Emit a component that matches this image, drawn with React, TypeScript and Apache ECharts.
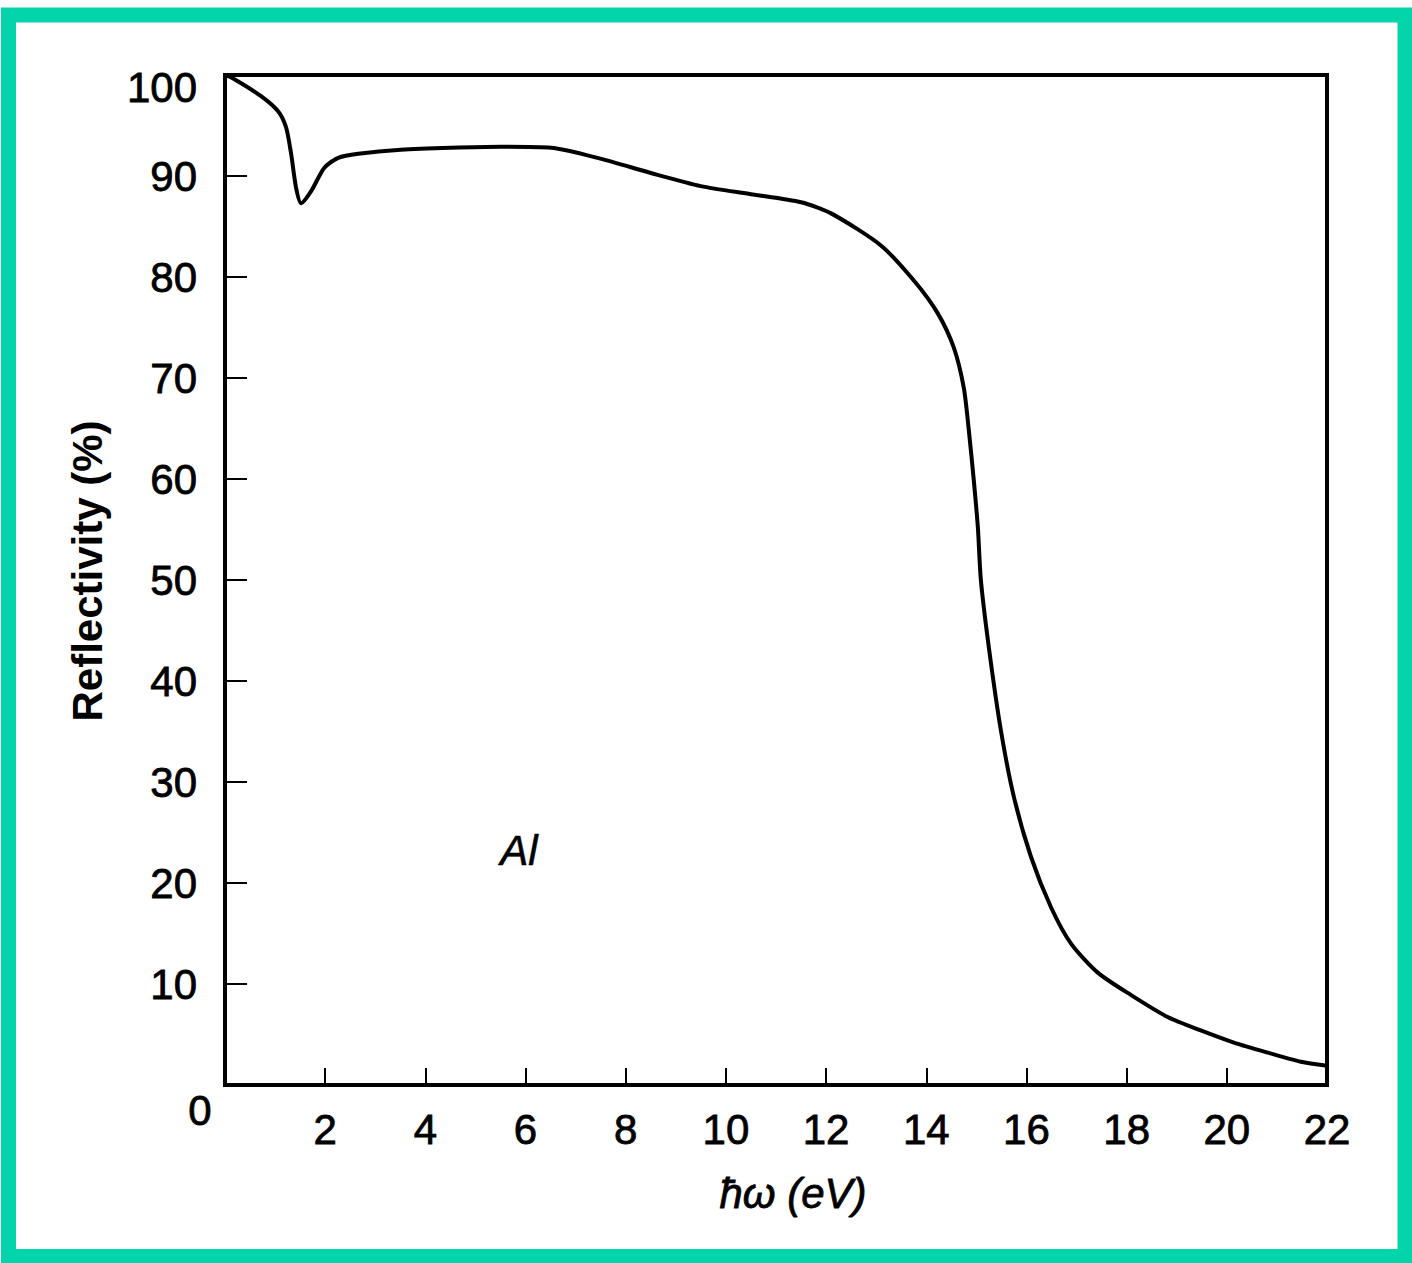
import React, { useEffect, useRef } from "react";
import * as echarts from "echarts";

const energyEV = [0, 0.18, 0.72, 1.06, 1.22, 1.32, 1.42, 1.52, 1.72, 1.98, 2.26, 2.66, 3.51, 4.51, 5.51, 6.51, 7.51, 8.5, 9.5, 10.5, 11.5, 12.1, 13.1, 13.76, 14.23, 14.55, 14.75, 14.85, 14.95, 15.03, 15.09, 15.25, 15.49, 15.75, 16.09, 16.49, 16.89, 17.43, 18.09, 18.83, 19.48, 20.14, 20.82, 21.48, 22];
const reflectivity = [100, 99.6, 97.9, 96.4, 94.8, 92.2, 88.8, 87.3, 88.5, 90.8, 91.8, 92.2, 92.6, 92.8, 92.9, 92.8, 91.7, 90.3, 89.0, 88.2, 87.4, 86.3, 83.1, 79.6, 76.4, 73.0, 69.0, 64.8, 59.8, 55.2, 50.0, 43.3, 35.1, 28.5, 22.6, 17.6, 14.0, 11.1, 8.9, 6.7, 5.4, 4.2, 3.2, 2.3, 1.9];

const xTickLabels = ["2", "4", "6", "8", "10", "12", "14", "16", "18", "20", "22"];
const yTickLabels = ["10", "20", "30", "40", "50", "60", "70", "80", "90", "100"];
const originLabel = "0";
const yTitle = "Reflectivity (%)";
const xTitle = "ħω (eV)";
const materialLabel = "Al";

const FONT = "'Liberation Sans', Arial, Helvetica, sans-serif";

export default function App() {
  const ref = useRef<HTMLDivElement>(null);
  useEffect(() => {
    document.body.style.margin = "0";
    if (!ref.current) return;
    const chart = echarts.init(ref.current, undefined, { renderer: "svg" });
    const data = energyEV.map((x, i) => [x, reflectivity[i]]);
    const heavy = { textBorderColor: "#000", textBorderWidth: 0.8 };
    chart.setOption({
      animation: false,
      backgroundColor: "#ffffff",
      grid: {
        left: 225,
        top: 75,
        right: 85,
        bottom: 178,
        show: true,
        borderColor: "#000",
        borderWidth: 4,
        backgroundColor: "transparent",
      },
      xAxis: {
        type: "value",
        min: 0,
        max: 22,
        interval: 2,
        axisLine: { show: true, onZero: false, lineStyle: { color: "#000", width: 4 } },
        axisTick: { show: true, inside: true, length: 17, lineStyle: { color: "#000", width: 2 } },
        splitLine: { show: false },
        axisLabel: {
          margin: 23,
          color: "#000",
          fontSize: 42,
          fontFamily: FONT,
          ...heavy,
          formatter: (v: number) => (xTickLabels.includes(String(v)) ? String(v) : ""),
        },
      },
      yAxis: {
        type: "value",
        min: 0,
        max: 100,
        interval: 10,
        axisLine: { show: true, onZero: false, lineStyle: { color: "#000", width: 4 } },
        axisTick: { show: true, inside: true, length: 22, lineStyle: { color: "#000", width: 2 } },
        splitLine: { show: false },
        axisLabel: {
          margin: 28,
          color: "#000",
          fontSize: 42,
          fontFamily: FONT,
          ...heavy,
          formatter: (v: number) => {
            const s = String(v);
            if (!yTickLabels.includes(s)) return "";
            return s === "100" ? "{top|" + s + "}" : s;
          },
          rich: {
            top: { fontSize: 42, fontFamily: FONT, color: "#000", padding: [24, 0, 0, 0], ...heavy },
          },
        },
      },
      series: [
        {
          type: "line",
          data,
          showSymbol: false,
          smooth: 0.25,
          lineStyle: { color: "#000", width: 4 },
          silent: true,
        },
      ],
      graphic: [
        {
          type: "rect",
          shape: { x: 8.5, y: 15, width: 1396.5, height: 1241.5 },
          style: { fill: "none", stroke: "#03d4a9", lineWidth: 15 },
          silent: true,
        },
        {
          type: "text",
          x: 200,
          y: 1110,
          style: { text: originLabel, font: `42px ${FONT}`, fill: "#000", stroke: "#000", lineWidth: 0.8, align: "center", verticalAlign: "middle" },
        },
        {
          type: "text",
          x: 87,
          y: 571,
          rotation: Math.PI / 2,
          style: { text: yTitle, font: `bold 42px ${FONT}`, fill: "#000", align: "center", verticalAlign: "middle" },
        },
        {
          type: "text",
          x: 793,
          y: 1193,
          style: { text: xTitle, font: `italic 42px ${FONT}`, fill: "#000", stroke: "#000", lineWidth: 0.8, align: "center", verticalAlign: "middle" },
        },
        {
          type: "text",
          x: 519,
          y: 850,
          style: { text: materialLabel, font: `italic 42px ${FONT}`, fill: "#000", stroke: "#000", lineWidth: 0.6, align: "center", verticalAlign: "middle" },
        },
      ],
    });
    return () => chart.dispose();
  }, []);
  return <div ref={ref} style={{ width: 1412, height: 1263 }} />;
}
